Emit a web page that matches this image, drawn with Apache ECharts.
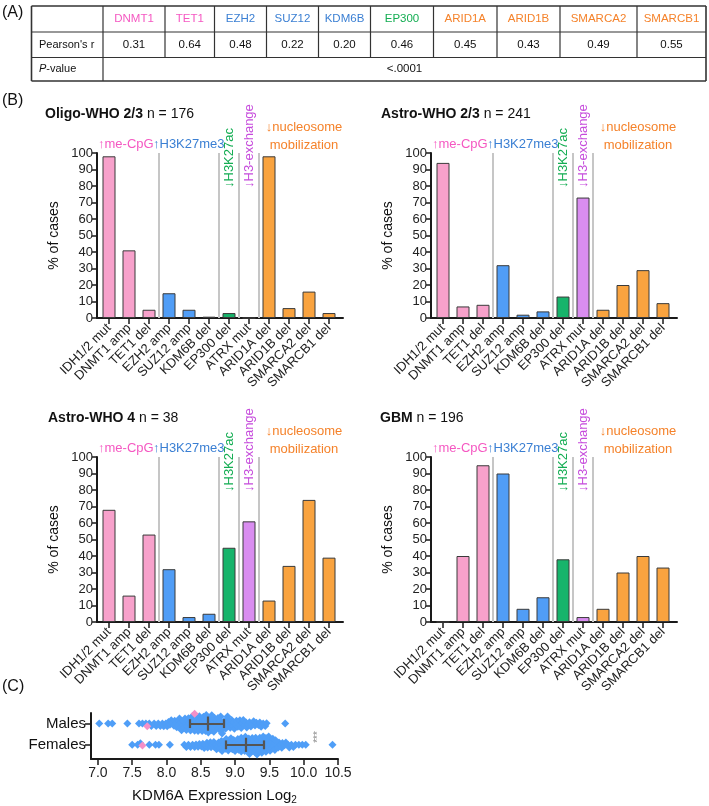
<!DOCTYPE html>
<html><head><meta charset="utf-8">
<script src="https://cdn.jsdelivr.net/npm/echarts@6/dist/echarts.min.js"></script>
<style>html,body{margin:0;padding:0;background:#fff}#c{width:709px;height:806px}</style>
</head><body><div id="c"></div>
<script>
const FONT = '"Liberation Sans", Arial, Helvetica, sans-serif';

// ---------- Panel A: table ----------
const tableGenes = ['DNMT1','TET1','EZH2','SUZ12','KDM6B','EP300','ARID1A','ARID1B','SMARCA2','SMARCB1'];
const tableGeneGroups = ['pink','pink','blue','blue','blue','green','orange','orange','orange','orange'];
const pearsonR = ['0.31','0.64','0.48','0.22','0.20','0.46','0.45','0.43','0.49','0.55'];
const pValueText = '<.0001';

// ---------- Panel B: bar charts ----------
const categories = ['IDH1/2 mut','DNMT1 amp','TET1 del','EZH2 amp','SUZ12 amp','KDM6B del','EP300 del','ATRX mut','ARID1A del','ARID1B del','SMARCA2 del','SMARCB1 del'];
const categoryGroups = ['pink','pink','pink','blue','blue','blue','green','violet','orange','orange','orange','orange'];
const oligo23 = [98, 41, 5, 15, 5, 0.8, 3, 0, 98, 6, 16, 3];
const astro23 = [94, 7, 8, 32, 2, 4, 13, 73, 5, 20, 29, 9];
const astro4  = [68, 16, 53, 32, 3, 5, 45, 61, 13, 34, 74, 39];
const gbm     = [0, 40, 95, 90, 8, 15, 38, 3, 8, 30, 40, 33];
const panelTitles = ['Oligo-WHO 2/3','Astro-WHO 2/3','Astro-WHO 4','GBM'];
const panelN = [176, 241, 38, 196];
const groupBoundaries = [2.5, 5.5, 6.5, 7.5];

// ---------- Panel C: beeswarm ----------
const malesKDM6A = [7.02,7.15,7.21,7.43,7.60,7.65,7.70,7.75,7.78,
 7.82,7.85,7.88, 7.91,7.94,7.96,7.99, 8.01,8.03,8.05,8.07,8.09,
 8.11,8.12,8.14,8.15,8.17,8.18,8.19,
 8.20,8.21,8.22,8.24,8.25,8.26,8.27,8.28,8.29,
 8.30,8.31,8.32,8.33,8.34,8.35,8.36,8.37,8.38,8.38,8.39,
 8.40,8.41,8.42,8.43,8.44,8.44,8.45,8.46,8.47,8.48,8.48,8.49,
 8.50,8.51,8.52,8.52,8.53,8.54,8.55,8.56,8.56,8.57,8.58,8.58,8.59,
 8.60,8.61,8.61,8.62,8.63,8.64,8.65,8.65,8.66,8.67,8.68,8.69,8.69,
 8.70,8.71,8.72,8.73,8.74,8.75,8.76,8.77,8.78,8.79,8.79,
 8.80,8.81,8.82,8.84,8.85,8.86,8.87,8.88,8.89,
 8.90,8.91,8.93,8.94,8.95,8.97,8.98,8.99,
 9.01,9.02,9.04,9.05,9.07,9.08,9.09,
 9.11,9.12,9.14,9.16,9.17,9.19,
 9.21,9.23,9.25,9.27,9.29, 9.31,9.34,9.36,9.38, 9.41,9.44,9.46, 9.73];
const femalesKDM6A = [7.50,7.58,7.62,7.75,7.84,7.89,8.05,
 8.26,8.29, 8.32,8.35,8.38, 8.41,8.43,8.46,8.48, 8.51,8.53,8.55,8.57,8.59,
 8.60,8.62,8.64,8.65,8.67,8.69, 8.70,8.72,8.73,8.75,8.76,8.78,8.79,
 8.80,8.81,8.82,8.84,8.85,8.86,8.87,8.88,8.89,
 8.90,8.91,8.92,8.93,8.94,8.95,8.96,8.97,8.98,8.99,
 9.00,9.01,9.02,9.03,9.04,9.05,9.06,9.07,9.08,9.09,9.09,
 9.10,9.11,9.12,9.13,9.14,9.14,9.15,9.16,9.17,9.18,9.19,9.19,
 9.20,9.21,9.21,9.22,9.23,9.24,9.25,9.25,9.26,9.27,9.28,9.29,9.29,
 9.30,9.31,9.31,9.32,9.33,9.34,9.35,9.35,9.36,9.37,9.38,9.39,9.39,
 9.40,9.41,9.41,9.42,9.43,9.44,9.45,9.45,9.46,9.47,9.48,9.49,9.49,
 9.50,9.51,9.52,9.53,9.54,9.55,9.56,9.57,9.58,9.59,
 9.61,9.63,9.64,9.66,9.68,9.69, 9.72,9.74,9.77,9.79, 9.82,9.85,9.88,
 9.93,9.98,10.03, 10.42];
const malesPink = [7.72, 8.41];
const femalesPink = [7.65];
const malesSummary = [8.34, 8.60, 8.84];   // q1, median, q3
const femalesSummary = [8.86, 9.16, 9.42];
const xTickValues = [7.0, 7.5, 8.0, 8.5, 9.0, 9.5, 10.0, 10.5];
const groupNames = ['Females', 'Males'];

// ---------- colours ----------
const textColors = {pink:'#f558c2', blue:'#3a7fd3', green:'#13ad52', violet:'#c64bdc', orange:'#f5822a'};
const barColors  = {pink:'#f7a1cb', blue:'#509df6', green:'#17b46b', violet:'#d98df0', orange:'#f9a33f'};

const chart = echarts.init(document.getElementById('c'), null, {renderer:'canvas'});

const panelPos = [
  {left:97, top:153, titleX:45},
  {left:431, top:153, titleX:381},
  {left:97, top:457, titleX:48},
  {left:431, top:457, titleX:380}
];
const panelData = [oligo23, astro23, astro4, gbm];
const GW = 246, GH = 165;
const catIdx = categories.map((c, i) => i);

const grids = [], xAxes = [], yAxes = [], series = [], graphics = [];

function txt(x, y, text, opts) {
  const o = Object.assign({fontSize:13, fill:'#111', align:'left', vAlign:'middle', weight:'normal', rotation:0, style:'normal'}, opts || {});
  return {type:'text', x:x, y:y, rotation:o.rotation, silent:true, z:100,
    style:{text:text, fill:o.fill, fontSize:o.fontSize, fontFamily:FONT, fontWeight:o.weight, fontStyle:o.style,
      align:o.align, textAlign:o.align, verticalAlign:o.vAlign, textVerticalAlign:o.vAlign, rich:o.rich}};
}

panelData.forEach((vals, i) => {
  const p = panelPos[i];
  grids.push({left:p.left, top:p.top, width:GW, height:GH});
  xAxes.push({gridIndex:i, type:'value', min:-0.6, max:11.7,
    axisLine:{show:true, onZero:false, lineStyle:{color:'#1a1a1a', width:2}},
    axisTick:{show:true, customValues:catIdx, length:6, lineStyle:{color:'#1a1a1a', width:1.5}},
    axisLabel:{show:true, customValues:catIdx, formatter:v => categories[Math.round(v)], rotate:45,
      fontSize:13, fontFamily:FONT, color:'#222', margin:8},
    splitLine:{show:false}});
  yAxes.push({gridIndex:i, type:'value', min:0, max:100, interval:10,
    axisLine:{show:true, onZero:false, lineStyle:{color:'#1a1a1a', width:2}},
    axisTick:{show:true, length:5, lineStyle:{color:'#1a1a1a', width:1.5}},
    axisLabel:{fontSize:13, fontFamily:FONT, color:'#222', margin:4},
    splitLine:{show:false},
    name:'% of cases', nameLocation:'middle', nameGap:36,
    nameTextStyle:{fontSize:14, fontFamily:FONT, color:'#111'}});
  series.push({type:'bar', xAxisIndex:i, yAxisIndex:i, barWidth:13, animation:false,
    data: vals.map((v, k) => ({value:[k, v], itemStyle:{color:barColors[categoryGroups[k]]}})),
    itemStyle:{borderColor:'#3a3a3a', borderWidth:1},
    markLine:{silent:true, symbol:'none', animation:false, label:{show:false},
      lineStyle:{color:'#c6c6c6', width:2, type:'solid'},
      data: groupBoundaries.map(b => ({xAxis:b}))}});

  const L = p.left, T = p.top;
  graphics.push(txt(p.titleX, T - 39, '{b|' + panelTitles[i] + '} n = ' + panelN[i],
    {fontSize:14, rich:{b:{fontWeight:'bold', fontSize:14, fontFamily:FONT, fill:'#111'}}}));
  graphics.push(txt(L + 1, T - 9, '↑me-CpG', {fill:textColors.pink}));
  graphics.push(txt(L + 56, T - 9, '↑H3K27me3', {fill:textColors.blue}));
  graphics.push(txt(L + 132, T + 35, '↓H3K27ac', {fill:textColors.green, rotation:Math.PI/2}));
  graphics.push(txt(L + 152, T + 35, '↓H3-exchange', {fill:textColors.violet, rotation:Math.PI/2}));
  graphics.push(txt(L + 207, T - 26, '↓nucleosome', {fill:textColors.orange, align:'center'}));
  graphics.push(txt(L + 207, T - 8, 'mobilization', {fill:textColors.orange, align:'center'}));
});

// ----- beeswarm layout (deterministic swarm packing) -----
const BX = 91, BT = 713, BW = 247, BH = 52;
const bxMin = 6.9, bxMax = 10.5, byMin = -0.667, byMax = 1.5;
const pxPerX = BW / (bxMax - bxMin), pxPerY = BH / (byMax - byMin);
function swarm(values, d) {
  const order = values.map((v, i) => i).sort((a, b) => values[a] - values[b]);
  const placed = [], out = new Array(values.length);
  order.forEach((i, n) => {
    const x = values[i] * pxPerX;
    const nb = placed.filter(q => Math.abs(q.x - x) < d);
    const cands = [0];
    nb.forEach(q => { const dy = Math.sqrt(d*d - (q.x - x) ** 2); cands.push(q.y + dy, q.y - dy); });
    cands.sort((a, b) => Math.abs(a) - Math.abs(b) || (n % 2 ? a - b : b - a));
    let y = 0;
    for (const c of cands) {
      if (nb.every(q => (q.x - x) ** 2 + (q.y - c) ** 2 >= d*d - 1e-6)) { y = c; break; }
    }
    placed.push({x, y}); out[i] = y;
  });
  return out;
}
function swarmSeries(blue, pink, row) {
  const all = blue.concat(pink);
  const off = swarm(all, 3.3);
  const b = [], pk = [];
  all.forEach((v, i) => {
    const pt = [v, row + off[i] / pxPerY];
    if (i < blue.length) b.push(pt); else pk.push(pt);
  });
  return [b, pk];
}
const [mB, mP] = swarmSeries(malesKDM6A, malesPink, 1);
const [fB, fP] = swarmSeries(femalesKDM6A, femalesPink, 0);

grids.push({left:BX, top:BT, width:BW, height:BH});
xAxes.push({gridIndex:4, type:'value', min:bxMin, max:bxMax,
  axisLine:{show:true, onZero:false, lineStyle:{color:'#1a1a1a', width:2}},
  axisTick:{show:true, customValues:xTickValues, length:6, lineStyle:{color:'#1a1a1a', width:1.5}},
  axisLabel:{customValues:xTickValues, formatter:v => v.toFixed(1), fontSize:14, fontFamily:FONT, color:'#222', margin:7},
  splitLine:{show:false},
  name:'{a|KDM6A Expression Log}{s|2}', nameLocation:'middle', nameGap:28,
  nameTextStyle:{fontSize:15, fontFamily:FONT, color:'#111',
    rich:{a:{fontSize:15, fontFamily:FONT, color:'#111'}, s:{fontSize:10, fontFamily:FONT, color:'#111', padding:[8,0,0,0]}}}});
yAxes.push({gridIndex:4, type:'value', min:byMin, max:byMax,
  axisLine:{show:true, onZero:false, lineStyle:{color:'#1a1a1a', width:2}},
  axisTick:{show:true, customValues:[0, 1], length:6, lineStyle:{color:'#1a1a1a', width:1.5}},
  axisLabel:{customValues:[0, 1], formatter:v => groupNames[Math.round(v)], fontSize:15, fontFamily:FONT, color:'#111', margin:5},
  splitLine:{show:false}});

const blueDot = '#4f9ef7', pinkDot = '#f490c8';
[[mB, blueDot], [fB, blueDot], [mP, pinkDot], [fP, pinkDot]].forEach(([d, col]) => {
  series.push({type:'scatter', xAxisIndex:4, yAxisIndex:4, symbol:'diamond', symbolSize:8,
    itemStyle:{color:col, opacity:1}, data:d, animation:false, silent:true});
});
function summaryLines(s, row) {
  const [q1, med, q3] = s;
  return [
    {coords:[[q1, row], [q3, row]]},
    {coords:[[med, row - 8/pxPerY], [med, row + 8/pxPerY]]},
    {coords:[[q1, row - 5/pxPerY], [q1, row + 5/pxPerY]]},
    {coords:[[q3, row - 5/pxPerY], [q3, row + 5/pxPerY]]}
  ];
}
series.push({type:'lines', coordinateSystem:'cartesian2d', xAxisIndex:4, yAxisIndex:4, z:10, animation:false, silent:true,
  lineStyle:{color:'#555', width:2.2, opacity:1},
  data: summaryLines(malesSummary, 1).concat(summaryLines(femalesSummary, 0))});

// ----- panel letters -----
graphics.push(txt(2, 13, '(A)', {fontSize:16}));
graphics.push(txt(2, 101, '(B)', {fontSize:16}));
graphics.push(txt(2, 687, '(C)', {fontSize:16}));
graphics.push(txt(318, 737, '***', {fontSize:10, fill:'#888', align:'center', rotation:Math.PI/2}));

// ----- table -----
const colX = [31.5, 103, 165, 214.5, 266.5, 318.5, 370.5, 433.5, 497, 560, 637, 706];
const rowY = [6, 32, 57.5, 81];
const tStroke = '#333';
function ln(x1, y1, x2, y2, w) {
  return {type:'line', silent:true, z:90, shape:{x1, y1, x2, y2}, style:{stroke:tStroke, lineWidth:w || 1.2}};
}
rowY.forEach((y, k) => graphics.push(ln(colX[0], y, colX[colX.length-1], y, (k === 0 || k === 3) ? 1.6 : 1.2)));
colX.forEach((x, k) => {
  const full = (k === 0 || k === 1 || k === colX.length - 1);
  graphics.push(ln(x, rowY[0], x, full ? rowY[3] : rowY[2], (k === 0 || k === colX.length-1) ? 1.6 : 1.2));
});
tableGenes.forEach((g, k) => {
  const cx = (colX[k+1] + colX[k+2]) / 2;
  graphics.push(txt(cx, (rowY[0] + rowY[1]) / 2, g, {fontSize:11.5, fill:textColors[tableGeneGroups[k]], align:'center'}));
  graphics.push(txt(cx, (rowY[1] + rowY[2]) / 2, pearsonR[k], {fontSize:11.5, fill:'#111', align:'center'}));
});
graphics.push(txt(39, (rowY[1] + rowY[2]) / 2, "Pearson's r", {fontSize:11}));
graphics.push(txt(39, (rowY[2] + rowY[3]) / 2, '{i|P}-value', {fontSize:11, rich:{i:{fontStyle:'italic', fontSize:11, fontFamily:FONT, fill:'#111'}}}));
graphics.push(txt((colX[1] + colX[colX.length-1]) / 2, (rowY[2] + rowY[3]) / 2, pValueText, {fontSize:11.5, align:'center'}));

chart.setOption({
  animation:false,
  backgroundColor:'#fff',
  textStyle:{fontFamily:FONT},
  grid:grids, xAxis:xAxes, yAxis:yAxes, series:series, graphic:graphics
});
</script></body></html>
